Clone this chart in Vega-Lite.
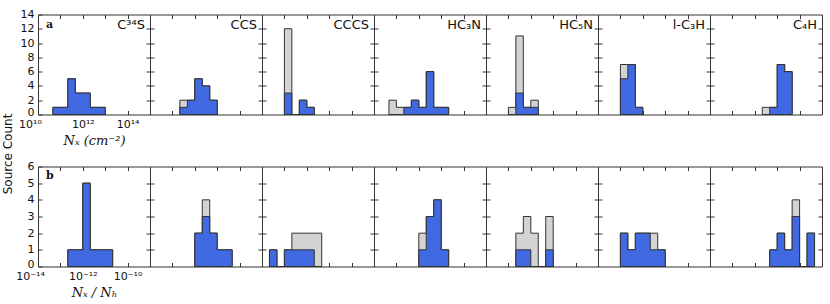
{
  "$schema": "https://vega.github.io/schema/vega-lite/v6.json",
  "background": "white",
  "padding": {"left": 2, "top": 7.5, "right": 5, "bottom": 0},
  "title": {"text": "Source Count", "orient": "left", "anchor": "middle", "font": "DejaVu Sans", "fontSize": 12, "fontWeight": "normal", "color": "#111", "offset": 0},
  "config": {
    "view": {"stroke": "#333", "strokeWidth": 1},
    "axis": {"domain": false, "grid": false, "tickSize": -4, "tickColor": "#333", "tickWidth": 1, "labelFont": "DejaVu Sans", "labelFontSize": 11, "labelColor": "#111", "labelOverlap": false, "labelFlush": false, "titleFont": "DejaVu Serif", "titleFontSize": 13, "titleFontWeight": "normal", "titleFontStyle": "italic", "titleColor": "#111"},
    "axisBottom": {"labelPadding": 8, "titlePadding": 5},
    "axisLeft": {"labelPadding": 8}
  },
  "datasets": {
    "colden": [
      {"mol": "C34S", "lo": 10.667, "all": 1, "sub": 1},
      {"mol": "C34S", "lo": 11.0, "all": 1, "sub": 1},
      {"mol": "C34S", "lo": 11.333, "all": 5, "sub": 5},
      {"mol": "C34S", "lo": 11.667, "all": 3, "sub": 3},
      {"mol": "C34S", "lo": 12.0, "all": 3, "sub": 3},
      {"mol": "C34S", "lo": 12.333, "all": 1, "sub": 1},
      {"mol": "C34S", "lo": 12.667, "all": 1, "sub": 1},
      {"mol": "C34S", "lo": 13.0, "all": 0, "sub": 0},
      {"mol": "CCS", "lo": 11.333, "all": 2, "sub": 1},
      {"mol": "CCS", "lo": 11.667, "all": 2, "sub": 2},
      {"mol": "CCS", "lo": 12.0, "all": 5, "sub": 5},
      {"mol": "CCS", "lo": 12.333, "all": 4, "sub": 4},
      {"mol": "CCS", "lo": 12.667, "all": 2, "sub": 2},
      {"mol": "CCS", "lo": 13.0, "all": 0, "sub": 0},
      {"mol": "CCCS", "lo": 11.0, "all": 12, "sub": 3},
      {"mol": "CCCS", "lo": 11.333, "all": 0, "sub": 0},
      {"mol": "CCCS", "lo": 11.667, "all": 2, "sub": 2},
      {"mol": "CCCS", "lo": 12.0, "all": 1, "sub": 1},
      {"mol": "CCCS", "lo": 12.333, "all": 0, "sub": 0},
      {"mol": "HC3N", "lo": 10.667, "all": 2, "sub": 0},
      {"mol": "HC3N", "lo": 11.0, "all": 1, "sub": 0},
      {"mol": "HC3N", "lo": 11.333, "all": 1, "sub": 1},
      {"mol": "HC3N", "lo": 11.667, "all": 2, "sub": 2},
      {"mol": "HC3N", "lo": 12.0, "all": 1, "sub": 1},
      {"mol": "HC3N", "lo": 12.333, "all": 6, "sub": 6},
      {"mol": "HC3N", "lo": 12.667, "all": 1, "sub": 1},
      {"mol": "HC3N", "lo": 13.0, "all": 1, "sub": 1},
      {"mol": "HC3N", "lo": 13.333, "all": 0, "sub": 0},
      {"mol": "HC5N", "lo": 11.0, "all": 1, "sub": 0},
      {"mol": "HC5N", "lo": 11.333, "all": 11, "sub": 3},
      {"mol": "HC5N", "lo": 11.667, "all": 1, "sub": 1},
      {"mol": "HC5N", "lo": 12.0, "all": 2, "sub": 1},
      {"mol": "HC5N", "lo": 12.333, "all": 0, "sub": 0},
      {"mol": "lC3H", "lo": 11.0, "all": 7, "sub": 5},
      {"mol": "lC3H", "lo": 11.333, "all": 7, "sub": 7},
      {"mol": "lC3H", "lo": 11.667, "all": 1, "sub": 1},
      {"mol": "lC3H", "lo": 12.0, "all": 0, "sub": 0},
      {"mol": "C4H", "lo": 12.333, "all": 1, "sub": 0},
      {"mol": "C4H", "lo": 12.667, "all": 1, "sub": 1},
      {"mol": "C4H", "lo": 13.0, "all": 7, "sub": 7},
      {"mol": "C4H", "lo": 13.333, "all": 6, "sub": 6},
      {"mol": "C4H", "lo": 13.667, "all": 0, "sub": 0}
    ],
    "abund": [
      {"mol": "C34S", "lo": -12.667, "all": 1, "sub": 1},
      {"mol": "C34S", "lo": -12.333, "all": 1, "sub": 1},
      {"mol": "C34S", "lo": -12.0, "all": 5, "sub": 5},
      {"mol": "C34S", "lo": -11.667, "all": 1, "sub": 1},
      {"mol": "C34S", "lo": -11.333, "all": 1, "sub": 1},
      {"mol": "C34S", "lo": -11.0, "all": 1, "sub": 1},
      {"mol": "C34S", "lo": -10.667, "all": 0, "sub": 0},
      {"mol": "CCS", "lo": -12.0, "all": 2, "sub": 2},
      {"mol": "CCS", "lo": -11.667, "all": 4, "sub": 3},
      {"mol": "CCS", "lo": -11.333, "all": 2, "sub": 2},
      {"mol": "CCS", "lo": -11.0, "all": 1, "sub": 1},
      {"mol": "CCS", "lo": -10.667, "all": 1, "sub": 1},
      {"mol": "CCS", "lo": -10.333, "all": 0, "sub": 0},
      {"mol": "CCCS", "lo": -13.667, "all": 1, "sub": 1},
      {"mol": "CCCS", "lo": -13.333, "all": 0, "sub": 0},
      {"mol": "CCCS", "lo": -13.0, "all": 1, "sub": 1},
      {"mol": "CCCS", "lo": -12.667, "all": 2, "sub": 1},
      {"mol": "CCCS", "lo": -12.333, "all": 2, "sub": 1},
      {"mol": "CCCS", "lo": -12.0, "all": 2, "sub": 1},
      {"mol": "CCCS", "lo": -11.667, "all": 2, "sub": 0},
      {"mol": "CCCS", "lo": -11.333, "all": 0, "sub": 0},
      {"mol": "HC3N", "lo": -12.0, "all": 2, "sub": 1},
      {"mol": "HC3N", "lo": -11.667, "all": 3, "sub": 3},
      {"mol": "HC3N", "lo": -11.333, "all": 4, "sub": 4},
      {"mol": "HC3N", "lo": -11.0, "all": 1, "sub": 1},
      {"mol": "HC3N", "lo": -10.667, "all": 0, "sub": 0},
      {"mol": "HC5N", "lo": -12.667, "all": 2, "sub": 1},
      {"mol": "HC5N", "lo": -12.333, "all": 3, "sub": 1},
      {"mol": "HC5N", "lo": -12.0, "all": 2, "sub": 0},
      {"mol": "HC5N", "lo": -11.667, "all": 0, "sub": 0},
      {"mol": "HC5N", "lo": -11.333, "all": 3, "sub": 1},
      {"mol": "HC5N", "lo": -11.0, "all": 0, "sub": 0},
      {"mol": "lC3H", "lo": -13.0, "all": 2, "sub": 2},
      {"mol": "lC3H", "lo": -12.667, "all": 1, "sub": 1},
      {"mol": "lC3H", "lo": -12.333, "all": 2, "sub": 2},
      {"mol": "lC3H", "lo": -12.0, "all": 2, "sub": 2},
      {"mol": "lC3H", "lo": -11.667, "all": 2, "sub": 1},
      {"mol": "lC3H", "lo": -11.333, "all": 1, "sub": 1},
      {"mol": "lC3H", "lo": -11.0, "all": 0, "sub": 0},
      {"mol": "C4H", "lo": -11.333, "all": 1, "sub": 1},
      {"mol": "C4H", "lo": -11.0, "all": 2, "sub": 2},
      {"mol": "C4H", "lo": -10.667, "all": 1, "sub": 1},
      {"mol": "C4H", "lo": -10.333, "all": 4, "sub": 3},
      {"mol": "C4H", "lo": -10.0, "all": 0, "sub": 0},
      {"mol": "C4H", "lo": -9.667, "all": 2, "sub": 2},
      {"mol": "C4H", "lo": -9.333, "all": 0, "sub": 0}
    ]
  },
  "columns": 7,
  "spacing": {"row": 52, "column": 0},
  "bounds": "flush",
  "concat": [
    {"width": 112, "height": 100, "resolve": {"axis": {"x": "independent", "y": "independent"}}, "layer": [
      {"data": {"name": "colden"}, "transform": [{"filter": "datum.mol === 'C34S'"}], "mark": {"type": "area", "interpolate": "step-after", "fill": "#d3d3d3", "stroke": "#333", "strokeWidth": 1},
       "encoding": {"x": {"field": "lo", "type": "quantitative", "scale": {"domain": [10, 15], "nice": false, "zero": false}, "axis": {"orient": "bottom", "values": [10, 11, 12, 13, 14], "labelExpr": "datum.value == 10 ? '10¹⁰' : datum.value == 12 ? '10¹²' : datum.value == 14 ? '10¹⁴' : ''", "labelOffset": {"condition": {"test": "datum.value == 10", "value": -8}, "value": 0}, "title": "Nₓ (cm⁻²)"}},
                    "y": {"field": "all", "type": "quantitative", "stack": null, "scale": {"domain": [0, 14], "nice": false}, "axis": {"orient": "left", "values": [0, 2, 4, 6, 8, 10, 12, 14], "labelOffset": {"condition": {"test": "datum.value == 0", "value": -2}, "value": 0}, "title": null}}}},
      {"data": {"name": "colden"}, "transform": [{"filter": "datum.mol === 'C34S'"}], "mark": {"type": "area", "interpolate": "step-after", "fill": "#4169e1", "stroke": "#333", "strokeWidth": 1},
       "encoding": {"x": {"field": "lo", "type": "quantitative", "scale": {"domain": [10, 15], "nice": false, "zero": false}, "axis": {"orient": "top", "values": [11, 12, 13, 14], "labels": false, "title": null}},
                    "y": {"field": "sub", "type": "quantitative", "stack": null, "scale": {"domain": [0, 14], "nice": false}, "axis": {"orient": "right", "values": [2, 4, 6, 8, 10, 12], "labels": false, "title": null}}}},
      {"data": {"values": [{"t": "C³⁴S", "tag": "a"}]}, "mark": {"type": "text", "align": "right", "baseline": "alphabetic", "dx": -5, "dy": 14, "font": "DejaVu Sans", "fontSize": 13, "color": "#111"},
       "encoding": {"text": {"field": "t"}, "x": {"datum": 15, "type": "quantitative", "scale": {"domain": [10, 15], "nice": false, "zero": false}, "axis": null}, "y": {"datum": 14, "type": "quantitative", "scale": {"domain": [0, 14], "nice": false}, "axis": null}}},
      {"data": {"values": [{"t": "C³⁴S", "tag": "a"}]}, "mark": {"type": "text", "align": "left", "baseline": "alphabetic", "dx": 8, "dy": 13.4, "font": "DejaVu Serif", "fontWeight": "bold", "fontSize": 11, "color": "#111"},
       "encoding": {"text": {"field": "tag"}, "x": {"datum": 10, "type": "quantitative", "scale": {"domain": [10, 15], "nice": false, "zero": false}, "axis": null}, "y": {"datum": 14, "type": "quantitative", "scale": {"domain": [0, 14], "nice": false}, "axis": null}}}
    ]},
    {"width": 112, "height": 100, "resolve": {"axis": {"x": "independent", "y": "independent"}}, "layer": [
      {"data": {"name": "colden"}, "transform": [{"filter": "datum.mol === 'CCS'"}], "mark": {"type": "area", "interpolate": "step-after", "fill": "#d3d3d3", "stroke": "#333", "strokeWidth": 1},
       "encoding": {"x": {"field": "lo", "type": "quantitative", "scale": {"domain": [10, 15], "nice": false, "zero": false}, "axis": {"orient": "bottom", "values": [11, 12, 13, 14], "labels": false, "title": null}},
                    "y": {"field": "all", "type": "quantitative", "stack": null, "scale": {"domain": [0, 14], "nice": false}, "axis": {"orient": "left", "values": [2, 4, 6, 8, 10, 12], "labels": false, "title": null}}}},
      {"data": {"name": "colden"}, "transform": [{"filter": "datum.mol === 'CCS'"}], "mark": {"type": "area", "interpolate": "step-after", "fill": "#4169e1", "stroke": "#333", "strokeWidth": 1},
       "encoding": {"x": {"field": "lo", "type": "quantitative", "scale": {"domain": [10, 15], "nice": false, "zero": false}, "axis": {"orient": "top", "values": [11, 12, 13, 14], "labels": false, "title": null}},
                    "y": {"field": "sub", "type": "quantitative", "stack": null, "scale": {"domain": [0, 14], "nice": false}, "axis": {"orient": "right", "values": [2, 4, 6, 8, 10, 12], "labels": false, "title": null}}}},
      {"data": {"values": [{"t": "CCS"}]}, "mark": {"type": "text", "align": "right", "baseline": "alphabetic", "dx": -5, "dy": 14, "font": "DejaVu Sans", "fontSize": 13, "color": "#111"},
       "encoding": {"text": {"field": "t"}, "x": {"datum": 15, "type": "quantitative", "scale": {"domain": [10, 15], "nice": false, "zero": false}, "axis": null}, "y": {"datum": 14, "type": "quantitative", "scale": {"domain": [0, 14], "nice": false}, "axis": null}}}
    ]},
    {"width": 112, "height": 100, "resolve": {"axis": {"x": "independent", "y": "independent"}}, "layer": [
      {"data": {"name": "colden"}, "transform": [{"filter": "datum.mol === 'CCCS'"}], "mark": {"type": "area", "interpolate": "step-after", "fill": "#d3d3d3", "stroke": "#333", "strokeWidth": 1},
       "encoding": {"x": {"field": "lo", "type": "quantitative", "scale": {"domain": [10, 15], "nice": false, "zero": false}, "axis": {"orient": "bottom", "values": [11, 12, 13, 14], "labels": false, "title": null}},
                    "y": {"field": "all", "type": "quantitative", "stack": null, "scale": {"domain": [0, 14], "nice": false}, "axis": {"orient": "left", "values": [2, 4, 6, 8, 10, 12], "labels": false, "title": null}}}},
      {"data": {"name": "colden"}, "transform": [{"filter": "datum.mol === 'CCCS'"}], "mark": {"type": "area", "interpolate": "step-after", "fill": "#4169e1", "stroke": "#333", "strokeWidth": 1},
       "encoding": {"x": {"field": "lo", "type": "quantitative", "scale": {"domain": [10, 15], "nice": false, "zero": false}, "axis": {"orient": "top", "values": [11, 12, 13, 14], "labels": false, "title": null}},
                    "y": {"field": "sub", "type": "quantitative", "stack": null, "scale": {"domain": [0, 14], "nice": false}, "axis": {"orient": "right", "values": [2, 4, 6, 8, 10, 12], "labels": false, "title": null}}}},
      {"data": {"values": [{"t": "CCCS"}]}, "mark": {"type": "text", "align": "right", "baseline": "alphabetic", "dx": -5, "dy": 14, "font": "DejaVu Sans", "fontSize": 13, "color": "#111"},
       "encoding": {"text": {"field": "t"}, "x": {"datum": 15, "type": "quantitative", "scale": {"domain": [10, 15], "nice": false, "zero": false}, "axis": null}, "y": {"datum": 14, "type": "quantitative", "scale": {"domain": [0, 14], "nice": false}, "axis": null}}}
    ]},
    {"width": 112, "height": 100, "resolve": {"axis": {"x": "independent", "y": "independent"}}, "layer": [
      {"data": {"name": "colden"}, "transform": [{"filter": "datum.mol === 'HC3N'"}], "mark": {"type": "area", "interpolate": "step-after", "fill": "#d3d3d3", "stroke": "#333", "strokeWidth": 1},
       "encoding": {"x": {"field": "lo", "type": "quantitative", "scale": {"domain": [10, 15], "nice": false, "zero": false}, "axis": {"orient": "bottom", "values": [11, 12, 13, 14], "labels": false, "title": null}},
                    "y": {"field": "all", "type": "quantitative", "stack": null, "scale": {"domain": [0, 14], "nice": false}, "axis": {"orient": "left", "values": [2, 4, 6, 8, 10, 12], "labels": false, "title": null}}}},
      {"data": {"name": "colden"}, "transform": [{"filter": "datum.mol === 'HC3N'"}], "mark": {"type": "area", "interpolate": "step-after", "fill": "#4169e1", "stroke": "#333", "strokeWidth": 1},
       "encoding": {"x": {"field": "lo", "type": "quantitative", "scale": {"domain": [10, 15], "nice": false, "zero": false}, "axis": {"orient": "top", "values": [11, 12, 13, 14], "labels": false, "title": null}},
                    "y": {"field": "sub", "type": "quantitative", "stack": null, "scale": {"domain": [0, 14], "nice": false}, "axis": {"orient": "right", "values": [2, 4, 6, 8, 10, 12], "labels": false, "title": null}}}},
      {"data": {"values": [{"t": "HC₃N"}]}, "mark": {"type": "text", "align": "right", "baseline": "alphabetic", "dx": -5, "dy": 14, "font": "DejaVu Sans", "fontSize": 13, "color": "#111"},
       "encoding": {"text": {"field": "t"}, "x": {"datum": 15, "type": "quantitative", "scale": {"domain": [10, 15], "nice": false, "zero": false}, "axis": null}, "y": {"datum": 14, "type": "quantitative", "scale": {"domain": [0, 14], "nice": false}, "axis": null}}}
    ]},
    {"width": 112, "height": 100, "resolve": {"axis": {"x": "independent", "y": "independent"}}, "layer": [
      {"data": {"name": "colden"}, "transform": [{"filter": "datum.mol === 'HC5N'"}], "mark": {"type": "area", "interpolate": "step-after", "fill": "#d3d3d3", "stroke": "#333", "strokeWidth": 1},
       "encoding": {"x": {"field": "lo", "type": "quantitative", "scale": {"domain": [10, 15], "nice": false, "zero": false}, "axis": {"orient": "bottom", "values": [11, 12, 13, 14], "labels": false, "title": null}},
                    "y": {"field": "all", "type": "quantitative", "stack": null, "scale": {"domain": [0, 14], "nice": false}, "axis": {"orient": "left", "values": [2, 4, 6, 8, 10, 12], "labels": false, "title": null}}}},
      {"data": {"name": "colden"}, "transform": [{"filter": "datum.mol === 'HC5N'"}], "mark": {"type": "area", "interpolate": "step-after", "fill": "#4169e1", "stroke": "#333", "strokeWidth": 1},
       "encoding": {"x": {"field": "lo", "type": "quantitative", "scale": {"domain": [10, 15], "nice": false, "zero": false}, "axis": {"orient": "top", "values": [11, 12, 13, 14], "labels": false, "title": null}},
                    "y": {"field": "sub", "type": "quantitative", "stack": null, "scale": {"domain": [0, 14], "nice": false}, "axis": {"orient": "right", "values": [2, 4, 6, 8, 10, 12], "labels": false, "title": null}}}},
      {"data": {"values": [{"t": "HC₅N"}]}, "mark": {"type": "text", "align": "right", "baseline": "alphabetic", "dx": -5, "dy": 14, "font": "DejaVu Sans", "fontSize": 13, "color": "#111"},
       "encoding": {"text": {"field": "t"}, "x": {"datum": 15, "type": "quantitative", "scale": {"domain": [10, 15], "nice": false, "zero": false}, "axis": null}, "y": {"datum": 14, "type": "quantitative", "scale": {"domain": [0, 14], "nice": false}, "axis": null}}}
    ]},
    {"width": 112, "height": 100, "resolve": {"axis": {"x": "independent", "y": "independent"}}, "layer": [
      {"data": {"name": "colden"}, "transform": [{"filter": "datum.mol === 'lC3H'"}], "mark": {"type": "area", "interpolate": "step-after", "fill": "#d3d3d3", "stroke": "#333", "strokeWidth": 1},
       "encoding": {"x": {"field": "lo", "type": "quantitative", "scale": {"domain": [10, 15], "nice": false, "zero": false}, "axis": {"orient": "bottom", "values": [11, 12, 13, 14], "labels": false, "title": null}},
                    "y": {"field": "all", "type": "quantitative", "stack": null, "scale": {"domain": [0, 14], "nice": false}, "axis": {"orient": "left", "values": [2, 4, 6, 8, 10, 12], "labels": false, "title": null}}}},
      {"data": {"name": "colden"}, "transform": [{"filter": "datum.mol === 'lC3H'"}], "mark": {"type": "area", "interpolate": "step-after", "fill": "#4169e1", "stroke": "#333", "strokeWidth": 1},
       "encoding": {"x": {"field": "lo", "type": "quantitative", "scale": {"domain": [10, 15], "nice": false, "zero": false}, "axis": {"orient": "top", "values": [11, 12, 13, 14], "labels": false, "title": null}},
                    "y": {"field": "sub", "type": "quantitative", "stack": null, "scale": {"domain": [0, 14], "nice": false}, "axis": {"orient": "right", "values": [2, 4, 6, 8, 10, 12], "labels": false, "title": null}}}},
      {"data": {"values": [{"t": "l-C₃H"}]}, "mark": {"type": "text", "align": "right", "baseline": "alphabetic", "dx": -5, "dy": 14, "font": "DejaVu Sans", "fontSize": 13, "color": "#111"},
       "encoding": {"text": {"field": "t"}, "x": {"datum": 15, "type": "quantitative", "scale": {"domain": [10, 15], "nice": false, "zero": false}, "axis": null}, "y": {"datum": 14, "type": "quantitative", "scale": {"domain": [0, 14], "nice": false}, "axis": null}}}
    ]},
    {"width": 112, "height": 100, "resolve": {"axis": {"x": "independent", "y": "independent"}}, "layer": [
      {"data": {"name": "colden"}, "transform": [{"filter": "datum.mol === 'C4H'"}], "mark": {"type": "area", "interpolate": "step-after", "fill": "#d3d3d3", "stroke": "#333", "strokeWidth": 1},
       "encoding": {"x": {"field": "lo", "type": "quantitative", "scale": {"domain": [10, 15], "nice": false, "zero": false}, "axis": {"orient": "bottom", "values": [11, 12, 13, 14], "labels": false, "title": null}},
                    "y": {"field": "all", "type": "quantitative", "stack": null, "scale": {"domain": [0, 14], "nice": false}, "axis": {"orient": "left", "values": [2, 4, 6, 8, 10, 12], "labels": false, "title": null}}}},
      {"data": {"name": "colden"}, "transform": [{"filter": "datum.mol === 'C4H'"}], "mark": {"type": "area", "interpolate": "step-after", "fill": "#4169e1", "stroke": "#333", "strokeWidth": 1},
       "encoding": {"x": {"field": "lo", "type": "quantitative", "scale": {"domain": [10, 15], "nice": false, "zero": false}, "axis": {"orient": "top", "values": [11, 12, 13, 14], "labels": false, "title": null}},
                    "y": {"field": "sub", "type": "quantitative", "stack": null, "scale": {"domain": [0, 14], "nice": false}, "axis": {"orient": "right", "values": [2, 4, 6, 8, 10, 12], "labels": false, "title": null}}}},
      {"data": {"values": [{"t": "C₄H"}]}, "mark": {"type": "text", "align": "right", "baseline": "alphabetic", "dx": -5, "dy": 14, "font": "DejaVu Sans", "fontSize": 13, "color": "#111"},
       "encoding": {"text": {"field": "t"}, "x": {"datum": 15, "type": "quantitative", "scale": {"domain": [10, 15], "nice": false, "zero": false}, "axis": null}, "y": {"datum": 14, "type": "quantitative", "scale": {"domain": [0, 14], "nice": false}, "axis": null}}}
    ]},
    {"width": 112, "height": 100, "resolve": {"axis": {"x": "independent", "y": "independent"}}, "layer": [
      {"data": {"name": "abund"}, "transform": [{"filter": "datum.mol === 'C34S'"}], "mark": {"type": "area", "interpolate": "step-after", "fill": "#d3d3d3", "stroke": "#333", "strokeWidth": 1},
       "encoding": {"x": {"field": "lo", "type": "quantitative", "scale": {"domain": [-14, -9], "nice": false, "zero": false}, "axis": {"orient": "bottom", "values": [-14, -13, -12, -11, -10], "labelExpr": "datum.value == -14 ? '10⁻¹⁴' : datum.value == -12 ? '10⁻¹²' : datum.value == -10 ? '10⁻¹⁰' : ''", "labelOffset": {"condition": {"test": "datum.value == -14", "value": -8}, "value": 0}, "title": "Nₓ / Nₕ"}},
                    "y": {"field": "all", "type": "quantitative", "stack": null, "scale": {"domain": [0, 6], "nice": false}, "axis": {"orient": "left", "values": [0, 1, 2, 3, 4, 5, 6], "labelOffset": {"condition": {"test": "datum.value == 0", "value": -2}, "value": 0}, "title": null}}}},
      {"data": {"name": "abund"}, "transform": [{"filter": "datum.mol === 'C34S'"}], "mark": {"type": "area", "interpolate": "step-after", "fill": "#4169e1", "stroke": "#333", "strokeWidth": 1},
       "encoding": {"x": {"field": "lo", "type": "quantitative", "scale": {"domain": [-14, -9], "nice": false, "zero": false}, "axis": {"orient": "top", "values": [-13, -12, -11, -10], "labels": false, "title": null}},
                    "y": {"field": "sub", "type": "quantitative", "stack": null, "scale": {"domain": [0, 6], "nice": false}, "axis": {"orient": "right", "values": [1, 2, 3, 4, 5], "labels": false, "title": null}}}},
      {"data": {"values": [{"tag": "b"}]}, "mark": {"type": "text", "align": "left", "baseline": "alphabetic", "dx": 8, "dy": 12.6, "font": "DejaVu Serif", "fontWeight": "bold", "fontSize": 11, "color": "#111"},
       "encoding": {"text": {"field": "tag"}, "x": {"datum": -14, "type": "quantitative", "scale": {"domain": [-14, -9], "nice": false, "zero": false}, "axis": null}, "y": {"datum": 6, "type": "quantitative", "scale": {"domain": [0, 6], "nice": false}, "axis": null}}}
    ]},
    {"width": 112, "height": 100, "resolve": {"axis": {"x": "independent", "y": "independent"}}, "layer": [
      {"data": {"name": "abund"}, "transform": [{"filter": "datum.mol === 'CCS'"}], "mark": {"type": "area", "interpolate": "step-after", "fill": "#d3d3d3", "stroke": "#333", "strokeWidth": 1},
       "encoding": {"x": {"field": "lo", "type": "quantitative", "scale": {"domain": [-14, -9], "nice": false, "zero": false}, "axis": {"orient": "bottom", "values": [-13, -12, -11, -10], "labels": false, "title": null}},
                    "y": {"field": "all", "type": "quantitative", "stack": null, "scale": {"domain": [0, 6], "nice": false}, "axis": {"orient": "left", "values": [1, 2, 3, 4, 5], "labels": false, "title": null}}}},
      {"data": {"name": "abund"}, "transform": [{"filter": "datum.mol === 'CCS'"}], "mark": {"type": "area", "interpolate": "step-after", "fill": "#4169e1", "stroke": "#333", "strokeWidth": 1},
       "encoding": {"x": {"field": "lo", "type": "quantitative", "scale": {"domain": [-14, -9], "nice": false, "zero": false}, "axis": {"orient": "top", "values": [-13, -12, -11, -10], "labels": false, "title": null}},
                    "y": {"field": "sub", "type": "quantitative", "stack": null, "scale": {"domain": [0, 6], "nice": false}, "axis": {"orient": "right", "values": [1, 2, 3, 4, 5], "labels": false, "title": null}}}}
    ]},
    {"width": 112, "height": 100, "resolve": {"axis": {"x": "independent", "y": "independent"}}, "layer": [
      {"data": {"name": "abund"}, "transform": [{"filter": "datum.mol === 'CCCS'"}], "mark": {"type": "area", "interpolate": "step-after", "fill": "#d3d3d3", "stroke": "#333", "strokeWidth": 1},
       "encoding": {"x": {"field": "lo", "type": "quantitative", "scale": {"domain": [-14, -9], "nice": false, "zero": false}, "axis": {"orient": "bottom", "values": [-13, -12, -11, -10], "labels": false, "title": null}},
                    "y": {"field": "all", "type": "quantitative", "stack": null, "scale": {"domain": [0, 6], "nice": false}, "axis": {"orient": "left", "values": [1, 2, 3, 4, 5], "labels": false, "title": null}}}},
      {"data": {"name": "abund"}, "transform": [{"filter": "datum.mol === 'CCCS'"}], "mark": {"type": "area", "interpolate": "step-after", "fill": "#4169e1", "stroke": "#333", "strokeWidth": 1},
       "encoding": {"x": {"field": "lo", "type": "quantitative", "scale": {"domain": [-14, -9], "nice": false, "zero": false}, "axis": {"orient": "top", "values": [-13, -12, -11, -10], "labels": false, "title": null}},
                    "y": {"field": "sub", "type": "quantitative", "stack": null, "scale": {"domain": [0, 6], "nice": false}, "axis": {"orient": "right", "values": [1, 2, 3, 4, 5], "labels": false, "title": null}}}}
    ]},
    {"width": 112, "height": 100, "resolve": {"axis": {"x": "independent", "y": "independent"}}, "layer": [
      {"data": {"name": "abund"}, "transform": [{"filter": "datum.mol === 'HC3N'"}], "mark": {"type": "area", "interpolate": "step-after", "fill": "#d3d3d3", "stroke": "#333", "strokeWidth": 1},
       "encoding": {"x": {"field": "lo", "type": "quantitative", "scale": {"domain": [-14, -9], "nice": false, "zero": false}, "axis": {"orient": "bottom", "values": [-13, -12, -11, -10], "labels": false, "title": null}},
                    "y": {"field": "all", "type": "quantitative", "stack": null, "scale": {"domain": [0, 6], "nice": false}, "axis": {"orient": "left", "values": [1, 2, 3, 4, 5], "labels": false, "title": null}}}},
      {"data": {"name": "abund"}, "transform": [{"filter": "datum.mol === 'HC3N'"}], "mark": {"type": "area", "interpolate": "step-after", "fill": "#4169e1", "stroke": "#333", "strokeWidth": 1},
       "encoding": {"x": {"field": "lo", "type": "quantitative", "scale": {"domain": [-14, -9], "nice": false, "zero": false}, "axis": {"orient": "top", "values": [-13, -12, -11, -10], "labels": false, "title": null}},
                    "y": {"field": "sub", "type": "quantitative", "stack": null, "scale": {"domain": [0, 6], "nice": false}, "axis": {"orient": "right", "values": [1, 2, 3, 4, 5], "labels": false, "title": null}}}}
    ]},
    {"width": 112, "height": 100, "resolve": {"axis": {"x": "independent", "y": "independent"}}, "layer": [
      {"data": {"name": "abund"}, "transform": [{"filter": "datum.mol === 'HC5N'"}], "mark": {"type": "area", "interpolate": "step-after", "fill": "#d3d3d3", "stroke": "#333", "strokeWidth": 1},
       "encoding": {"x": {"field": "lo", "type": "quantitative", "scale": {"domain": [-14, -9], "nice": false, "zero": false}, "axis": {"orient": "bottom", "values": [-13, -12, -11, -10], "labels": false, "title": null}},
                    "y": {"field": "all", "type": "quantitative", "stack": null, "scale": {"domain": [0, 6], "nice": false}, "axis": {"orient": "left", "values": [1, 2, 3, 4, 5], "labels": false, "title": null}}}},
      {"data": {"name": "abund"}, "transform": [{"filter": "datum.mol === 'HC5N'"}], "mark": {"type": "area", "interpolate": "step-after", "fill": "#4169e1", "stroke": "#333", "strokeWidth": 1},
       "encoding": {"x": {"field": "lo", "type": "quantitative", "scale": {"domain": [-14, -9], "nice": false, "zero": false}, "axis": {"orient": "top", "values": [-13, -12, -11, -10], "labels": false, "title": null}},
                    "y": {"field": "sub", "type": "quantitative", "stack": null, "scale": {"domain": [0, 6], "nice": false}, "axis": {"orient": "right", "values": [1, 2, 3, 4, 5], "labels": false, "title": null}}}}
    ]},
    {"width": 112, "height": 100, "resolve": {"axis": {"x": "independent", "y": "independent"}}, "layer": [
      {"data": {"name": "abund"}, "transform": [{"filter": "datum.mol === 'lC3H'"}], "mark": {"type": "area", "interpolate": "step-after", "fill": "#d3d3d3", "stroke": "#333", "strokeWidth": 1},
       "encoding": {"x": {"field": "lo", "type": "quantitative", "scale": {"domain": [-14, -9], "nice": false, "zero": false}, "axis": {"orient": "bottom", "values": [-13, -12, -11, -10], "labels": false, "title": null}},
                    "y": {"field": "all", "type": "quantitative", "stack": null, "scale": {"domain": [0, 6], "nice": false}, "axis": {"orient": "left", "values": [1, 2, 3, 4, 5], "labels": false, "title": null}}}},
      {"data": {"name": "abund"}, "transform": [{"filter": "datum.mol === 'lC3H'"}], "mark": {"type": "area", "interpolate": "step-after", "fill": "#4169e1", "stroke": "#333", "strokeWidth": 1},
       "encoding": {"x": {"field": "lo", "type": "quantitative", "scale": {"domain": [-14, -9], "nice": false, "zero": false}, "axis": {"orient": "top", "values": [-13, -12, -11, -10], "labels": false, "title": null}},
                    "y": {"field": "sub", "type": "quantitative", "stack": null, "scale": {"domain": [0, 6], "nice": false}, "axis": {"orient": "right", "values": [1, 2, 3, 4, 5], "labels": false, "title": null}}}}
    ]},
    {"width": 112, "height": 100, "resolve": {"axis": {"x": "independent", "y": "independent"}}, "layer": [
      {"data": {"name": "abund"}, "transform": [{"filter": "datum.mol === 'C4H'"}], "mark": {"type": "area", "interpolate": "step-after", "fill": "#d3d3d3", "stroke": "#333", "strokeWidth": 1},
       "encoding": {"x": {"field": "lo", "type": "quantitative", "scale": {"domain": [-14, -9], "nice": false, "zero": false}, "axis": {"orient": "bottom", "values": [-13, -12, -11, -10], "labels": false, "title": null}},
                    "y": {"field": "all", "type": "quantitative", "stack": null, "scale": {"domain": [0, 6], "nice": false}, "axis": {"orient": "left", "values": [1, 2, 3, 4, 5], "labels": false, "title": null}}}},
      {"data": {"name": "abund"}, "transform": [{"filter": "datum.mol === 'C4H'"}], "mark": {"type": "area", "interpolate": "step-after", "fill": "#4169e1", "stroke": "#333", "strokeWidth": 1},
       "encoding": {"x": {"field": "lo", "type": "quantitative", "scale": {"domain": [-14, -9], "nice": false, "zero": false}, "axis": {"orient": "top", "values": [-13, -12, -11, -10], "labels": false, "title": null}},
                    "y": {"field": "sub", "type": "quantitative", "stack": null, "scale": {"domain": [0, 6], "nice": false}, "axis": {"orient": "right", "values": [1, 2, 3, 4, 5], "labels": false, "title": null}}}}
    ]}
  ]
}
